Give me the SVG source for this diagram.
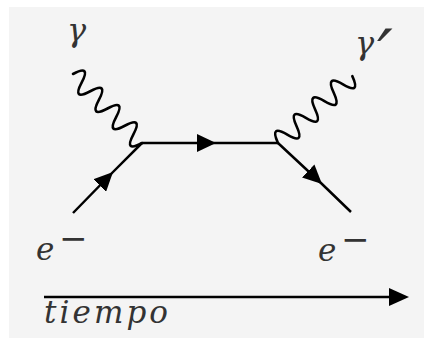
<svg xmlns="http://www.w3.org/2000/svg" width="424" height="338" viewBox="0 0 424 338">
<style>
.ln{fill:none;stroke:#000;stroke-width:2.5}
.ph{fill:none;stroke:#000;stroke-width:2.6;stroke-linejoin:round;stroke-linecap:round}
.lb{font-family:"DejaVu Serif","Liberation Serif",serif;font-style:italic;fill:#333}
.mn{font-family:"DejaVu Serif","Liberation Serif",serif;fill:#333}
.pr{font-family:"DejaVu Sans","Liberation Sans",sans-serif;font-style:oblique}
</style>
<defs>
<marker id="ah" markerUnits="userSpaceOnUse" markerWidth="19" markerHeight="18" viewBox="0 0 19 18" refX="19" refY="9" orient="auto">
<path d="M0 0 L19 9 L0 18 Z" fill="#000"/>
</marker>
</defs>
<rect x="9" y="7" width="415" height="331" fill="#f4f4f4"/>
<g id="connectors">
<path id="e-in" class="ln" d="M73 213 L113 172 L142 143" marker-mid="url(#ah)"/>
<path id="e-prop" class="ln" d="M142 143 L216 143 L278 143" marker-mid="url(#ah)"/>
<path id="e-out" class="ln" d="M278 143 L322 184 L351 212" marker-mid="url(#ah)"/>
<path id="photon-in" class="ph" transform="translate(73,74) rotate(45)" d="M0 0 Q6.1 -20 12.2 0 T24.4 0 T36.6 0 T48.8 0 T61 0 T73.2 0 T85.4 0 T97.6 0"/>
<path id="photon-out" class="ph" transform="translate(278,143) rotate(-42)" d="M0 0 Q6.25 -20 12.5 0 T25 0 T37.5 0 T50 0 T62.5 0 T75 0 T87.5 0 T100 0"/>
<path id="time-axis" class="ln" d="M44 297 L392 297"/>
<path d="M389 288 L409 297 L389 306 Z" fill="#000"/>
</g>
<g id="label-gamma"><text class="lb" x="67" y="41" font-size="32">γ</text></g>
<g id="label-gamma-prime"><text class="lb" x="355" y="54" font-size="32">γ<tspan class="pr" x="377" y="79" font-size="70">′</tspan></text></g>
<g id="label-e-left"><text class="lb" x="36" y="260" font-size="31">e</text><text class="mn" x="59" y="250" font-size="34">−</text></g>
<g id="label-e-right"><text class="lb" x="318" y="261" font-size="31">e</text><text class="mn" x="341" y="251" font-size="34">−</text></g>
<g id="label-tiempo"><text class="lb" x="44" y="323" font-size="31" textLength="124" lengthAdjust="spacing">tiempo</text></g>
</svg>
